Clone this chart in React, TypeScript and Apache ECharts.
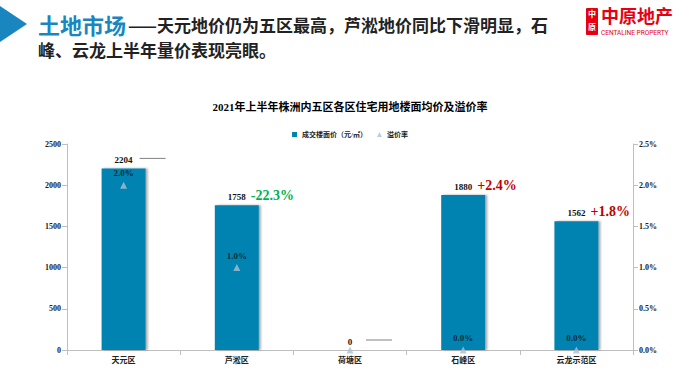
import React, { useEffect, useRef } from "react";
import * as echarts from "echarts";

const categories = ["天元区", "芦淞区", "荷塘区", "石峰区", "云龙示范区"];
const floorPrice = [2204, 1758, 0, 1880, 1562];
const premiumRate = [2.0, 1.0, 0.0, 0.0, 0.0];
const showRateLabel = [true, true, false, true, true];
const yoyNotes = [
  { cat: "芦淞区", value: 1758, text: "-22.3%", color: "#00B050" },
  { cat: "石峰区", value: 1880, text: "+2.4%", color: "#C00000" },
  { cat: "云龙示范区", value: 1562, text: "+1.8%", color: "#C00000" },
];
const dashNotes = [
  { cat: "天元区", value: 2204 },
  { cat: "荷塘区", value: 0 },
];
const leftTicks = { min: 0, max: 2500, interval: 500 };
const rightTicks = { min: 0, max: 2.5, interval: 0.5 };

const SERIF = "'Liberation Serif', 'DejaVu Serif', 'Noto Sans CJK SC', serif";
const CJK = "'Noto Sans CJK SC', sans-serif";

export default function App() {
  const ref = useRef<HTMLDivElement>(null);
  useEffect(() => {
    if (!ref.current) return;
    const chart = echarts.init(ref.current, null, { renderer: "svg" });
    chart.setOption({
      animation: false,
      backgroundColor: "#fff",
      title: {
        text: "2021年上半年株洲内五区各区住宅用地楼面均价及溢价率",
        left: "center",
        top: 96,
        textStyle: { fontSize: 11, fontWeight: "bold", fontFamily: SERIF, color: "#000" },
      },
      legend: {
        top: 126,
        left: "center",
        itemWidth: 5,
        itemHeight: 5,
        itemGap: 10,
        textStyle: { fontSize: 7, fontFamily: SERIF, fontWeight: "bold", color: "#222" },
        data: [
          { name: "成交楼面价（元/㎡）", icon: "rect" },
          { name: "溢价率", icon: "triangle" },
        ],
      },
      grid: { left: 67, right: 67, top: 144, bottom: 41 },
      xAxis: {
        type: "category",
        data: categories,
        axisLine: { lineStyle: { color: "#BFBFBF" } },
        axisTick: { show: true, lineStyle: { color: "#BFBFBF" } },
        axisLabel: { fontSize: 8, fontWeight: "bold", fontFamily: CJK, color: "#222", margin: 5 },
      },
      yAxis: [
        {
          type: "value",
          min: leftTicks.min,
          max: leftTicks.max,
          interval: leftTicks.interval,
          splitLine: { show: false },
          axisLine: { show: true, lineStyle: { color: "#BFBFBF" } },
          axisTick: { show: true, lineStyle: { color: "#BFBFBF" } },
          axisLabel: {
            fontSize: 8,
            fontWeight: "bold",
            fontFamily: SERIF,
            color: "#222",
            margin: 6,
            formatter: (v: number) => String(v),
          },
        },
        {
          type: "value",
          min: rightTicks.min,
          max: rightTicks.max,
          interval: rightTicks.interval,
          splitLine: { show: false },
          axisLine: { show: true, lineStyle: { color: "#BFBFBF" } },
          axisTick: { show: true, lineStyle: { color: "#BFBFBF" } },
          axisLabel: {
            fontSize: 8,
            fontWeight: "bold",
            fontFamily: SERIF,
            color: "#222",
            margin: 6,
            formatter: (v: number) => v.toFixed(1) + "%",
          },
        },
      ],
      series: [
        {
          name: "成交楼面价（元/㎡）",
          type: "bar",
          data: floorPrice,
          barWidth: 44,
          itemStyle: {
            color: "#0083B0",
            shadowColor: "rgba(0,0,0,0.35)",
            shadowOffsetX: 2,
            shadowOffsetY: 0,
            shadowBlur: 2,
          },
          label: {
            show: true,
            position: "top",
            distance: 4,
            fontSize: 9,
            fontWeight: "bold",
            fontFamily: SERIF,
            color: "#111",
          },
          markPoint: {
            symbol: "rect",
            symbolSize: 0,
            silent: true,
            data: [
              ...yoyNotes.map((n) => ({
                coord: [n.cat, n.value],
                label: {
                  show: true,
                  position: "right",
                  distance: 0,
                  offset: [14, -10],
                  formatter: n.text,
                  fontSize: 14,
                  fontWeight: "bold",
                  fontFamily: SERIF,
                  color: n.color,
                },
              })),
              ...dashNotes.map((n) => ({
                coord: [n.cat, n.value],
                label: {
                  show: true,
                  position: "right",
                  distance: 0,
                  offset: [16, -10],
                  formatter: "{l|}",
                  rich: { l: { width: 26, height: 1, backgroundColor: "#808080" } },
                },
              })),
            ],
          },
        },
        {
          name: "溢价率",
          type: "scatter",
          yAxisIndex: 1,
          symbol: "triangle",
          symbolSize: 7,
          itemStyle: { color: "#A7C0D6" },
          data: premiumRate.map((v, i) => ({
            value: v,
            label: { show: showRateLabel[i] },
          })),
          label: {
            position: "top",
            distance: 4,
            fontSize: 9,
            fontWeight: "bold",
            fontFamily: SERIF,
            color: "#111",
            formatter: (p: any) => Number(p.value).toFixed(1) + "%",
          },
          z: 5,
        },
      ],
      graphic: [
        { type: "polygon", shape: { points: [[0, 6], [27, 24], [0, 42]] }, style: { fill: "#1A86C0" } },
        {
          type: "text",
          x: 38,
          y: 13,
          style: { text: "土地市场", fontSize: 22, fontWeight: "bold", fontFamily: CJK, fill: "#1A86C0" },
        },
        {
          type: "text",
          x: 128,
          y: 16,
          style: {
            text: "——天元地价仍为五区最高，芦淞地价同比下滑明显，石",
            fontSize: 17,
            fontWeight: "bold",
            fontFamily: CJK,
            fill: "#222",
          },
        },
        {
          type: "text",
          x: 38,
          y: 41,
          style: { text: "峰、云龙上半年量价表现亮眼。", fontSize: 17, fontWeight: "bold", fontFamily: CJK, fill: "#222" },
        },
        { type: "rect", shape: { x: 586, y: 8, width: 12, height: 27, r: 1 }, style: { fill: "#E60012" } },
        { type: "text", x: 588, y: 9, style: { text: "中", fontSize: 8, fill: "#fff", fontFamily: CJK, fontWeight: "bold" } },
        { type: "text", x: 588, y: 22, style: { text: "原", fontSize: 8, fill: "#fff", fontFamily: CJK, fontWeight: "bold" } },
        {
          type: "text",
          x: 601,
          y: 6,
          style: { text: "中原地产", fontSize: 18, fontFamily: CJK, fontWeight: "bold", fill: "#E60012" },
        },
        {
          type: "text",
          x: 601,
          y: 29,
          style: { text: "CENTALINE PROPERTY", fontSize: 6.5, fontFamily: "Roboto, sans-serif", fill: "#E60012" },
        },
      ],
    });
    return () => chart.dispose();
  }, []);
  return <div ref={ref} style={{ width: 700, height: 391, position: "fixed", left: 0, top: 0 }} />;
}
